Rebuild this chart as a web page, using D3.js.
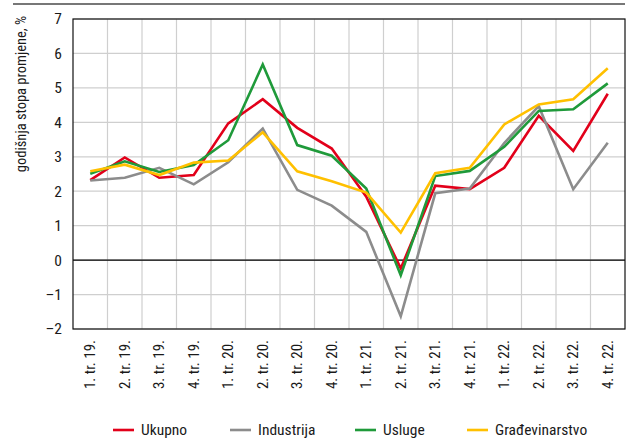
<!DOCTYPE html>
<html><head><meta charset="utf-8">
<script src="https://cdn.jsdelivr.net/npm/d3@7"></script>
<style>
body{margin:0;background:#fff;}
text{font-family:"Liberation Sans Narrow","Roboto Condensed","Arial Narrow",sans-serif;fill:#1a1a1a;}
</style></head>
<body><div id="chart"></div>
<script>
const categories=['1. tr. 19.','2. tr. 19.','3. tr. 19.','4. tr. 19.','1. tr. 20.','2. tr. 20.','3. tr. 20.','4. tr. 20.',
  '1. tr. 21.','2. tr. 21.','3. tr. 21.','4. tr. 21.','1. tr. 22.','2. tr. 22.','3. tr. 22.','4. tr. 22.'];
const ukupno=[2.32,2.98,2.39,2.47,3.97,4.67,3.84,3.24,1.84,-0.24,2.16,2.06,2.68,4.19,3.17,4.83];
const industrija=[2.31,2.39,2.68,2.2,2.84,3.82,2.04,1.58,0.82,-1.63,1.94,2.08,3.4,4.47,2.06,3.41];
const usluge=[2.51,2.87,2.56,2.76,3.48,5.68,3.34,3.03,2.08,-0.44,2.44,2.59,3.29,4.33,4.38,5.13];
const gradjevinarstvo=[2.58,2.77,2.47,2.83,2.89,3.71,2.58,2.29,1.96,0.8,2.52,2.68,3.94,4.52,4.67,5.57];
const yTicks=[-2,-1,0,1,2,3,4,5,6,7];
const series=[
  {name:'Ukupno',values:ukupno,color:'#e2001a'},
  {name:'Industrija',values:industrija,color:'#8c8c8c'},
  {name:'Usluge',values:usluge,color:'#1f9a3a'},
  {name:'Građevinarstvo',values:gradjevinarstvo,color:'#ffc000'}
];

const W=633,H=439;
const M={left:73,right:8,top:19,bottom:110};
const svg=d3.select('#chart').append('svg').attr('width',W).attr('height',H);

// top rule
svg.append('line').attr('x1',13).attr('x2',625).attr('y1',4).attr('y2',4)
  .attr('stroke','#777').attr('stroke-width',2);

const x=d3.scaleBand().domain(categories).range([M.left,W-M.right]);
const y=d3.scaleLinear().domain([-2,7]).range([H-M.bottom,M.top]);

const grid=svg.append('g');
grid.selectAll('line.h').data(yTicks).join('line')
  .attr('x1',M.left).attr('x2',W-M.right).attr('y1',d=>y(d)).attr('y2',d=>y(d))
  .attr('stroke','#cfcfcf').attr('stroke-width',1.2);
grid.selectAll('line.v').data(categories.slice(1)).join('line')
  .attr('x1',d=>x(d)).attr('x2',d=>x(d)).attr('y1',M.top).attr('y2',H-M.bottom)
  .attr('stroke','#cfcfcf').attr('stroke-width',1.2);

svg.append('line').attr('x1',M.left).attr('x2',W-M.right).attr('y1',y(0)).attr('y2',y(0))
  .attr('stroke','#000').attr('stroke-width',1.2);
svg.append('rect').attr('x',M.left).attr('y',M.top)
  .attr('width',W-M.right-M.left).attr('height',H-M.bottom-M.top)
  .attr('fill','none').attr('stroke','#111').attr('stroke-width',1.2);

// y axis
const yAx=svg.append('g').attr('transform',`translate(${M.left},0)`)
  .call(d3.axisLeft(y).tickValues(yTicks).tickSize(0).tickPadding(11).tickFormat(d=>d<0?'\u2013'+Math.abs(d):d));
yAx.select('.domain').remove();
yAx.selectAll('text').attr('font-size',15.5).attr('fill','#1a1a1a')
  .attr('font-family','"Liberation Sans Narrow",sans-serif');

svg.append('text').attr('transform','translate(26,94) rotate(-90)')
  .attr('text-anchor','middle').attr('font-size',14.5).text('godišnja stopa promjene, %');

// x axis labels
svg.append('g').selectAll('text').data(categories).join('text')
  .attr('transform',d=>`translate(${x(d)+x.bandwidth()/2+5},${H-M.bottom+11}) rotate(-90)`)
  .attr('text-anchor','end').attr('font-size',15).text(d=>d);

// lines
const line=d3.line().x((d,i)=>x(categories[i])+x.bandwidth()/2).y(d=>y(d));
svg.append('g').selectAll('path').data(series).join('path')
  .attr('d',d=>line(d.values)).attr('fill','none')
  .attr('stroke',d=>d.color).attr('stroke-width',2.6).attr('stroke-linejoin','miter');

// legend
const legX=[113,230,355,467];
const leg=svg.append('g').selectAll('g').data(series).join('g')
  .attr('transform',(d,i)=>`translate(${legX[i]},430)`);
leg.append('line').attr('x1',0).attr('x2',21).attr('stroke',d=>d.color).attr('stroke-width',2.6);
leg.append('text').attr('x',28).attr('dy','0.35em').attr('font-size',15.5).text(d=>d.name);
</script></body></html>
